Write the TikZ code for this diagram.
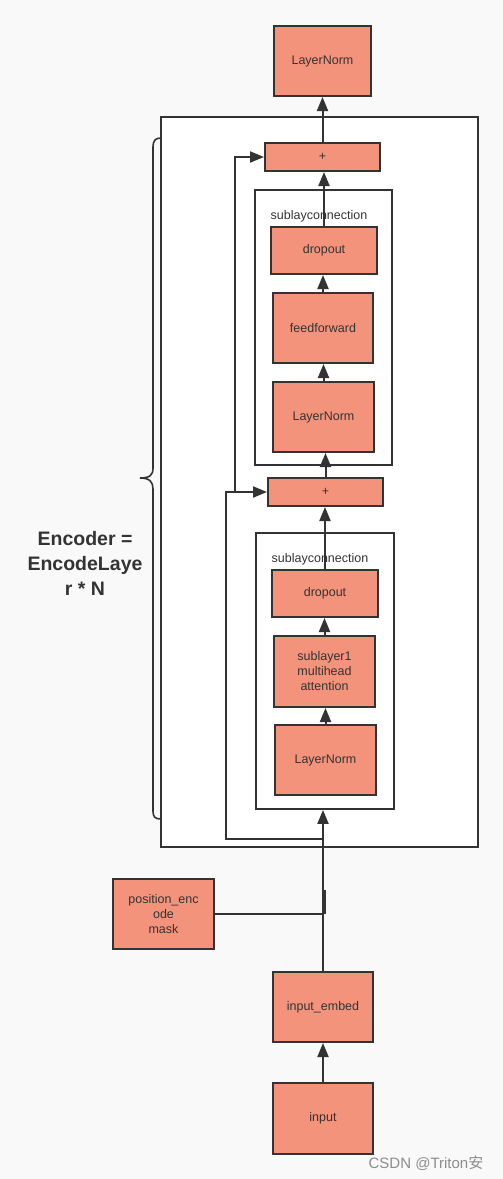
\documentclass[tikz,border=0pt]{standalone}
\usepackage{fontspec}
\setmainfont{Liberation Sans}
\newfontfamily\cjk{Noto Sans CJK SC}
\usetikzlibrary{arrows.meta}
\definecolor{salmon}{HTML}{F4937B}
\definecolor{ink}{HTML}{333333}
\definecolor{bgc}{HTML}{F9F9F9}
\begin{document}
\begin{tikzpicture}[x=1pt,y=-1pt,
  box/.style={draw=ink,line width=2pt,fill=salmon,text=ink,inner sep=1pt,align=center,font=\fontsize{12.5}{15}\selectfont},
  frame/.style={draw=ink,line width=1.8pt,fill=white},
  conn/.style={draw=ink,line width=2pt},
  arr/.style={conn,-{Triangle[length=14pt,width=11pt]}},
  lbl/.style={text=ink,font=\fontsize{12.5}{15}\selectfont,inner sep=0pt}]
\fill[bgc] (0,0) rectangle (503,1179);
\useasboundingbox (0,0) rectangle (503,1179);
% outer encoder frame
\node[frame,minimum width=317pt,minimum height=730pt,inner sep=0pt] (enc) at (319.5,482) {};
% brace
\draw[ink,line width=1.6pt] (161,138) .. controls (155,138) and (153,141) .. (153,147) -- (153,468) .. controls (153,475) and (150,478) .. (140,478) .. controls (150,478) and (153,482) .. (153,489) -- (153,811) .. controls (153,817) and (155,819) .. (161,819);
\node[text=ink,font=\bfseries\fontsize{19.5}{25}\selectfont,align=center] (enctxt) at (85,563) {Encoder =\\EncodeLaye\\r * N};
% sublayer frames
\node[frame,minimum width=137pt,minimum height=275pt,inner sep=0pt] (sub1) at (323.5,327.5) {};
\node[frame,minimum width=138pt,minimum height=276pt,inner sep=0pt] (sub2) at (325,671) {};
\node[lbl] (sub1l) at (319,216) {sublayconnection};
\node[lbl] (sub2l) at (320,559) {sublayconnection};
% boxes
\node[box,minimum width=97pt,minimum height=70pt] (ln0) at (322.5,61) {LayerNorm};
\node[box,minimum width=115pt,minimum height=28pt] (plus1) at (322.5,157) {+};
\node[box,minimum width=106pt,minimum height=47pt] (drop1) at (324,250.5) {dropout};
\node[box,minimum width=100pt,minimum height=70pt] (ff) at (323,328) {feedforward};
\node[box,minimum width=101pt,minimum height=70pt] (ln1) at (323.5,417) {LayerNorm};
\node[box,minimum width=115pt,minimum height=28pt] (plus2) at (325.5,492) {+};
\node[box,minimum width=106pt,minimum height=47pt] (drop2) at (325,593.5) {dropout};
\node[box,minimum width=101pt,minimum height=71pt] (sa) at (324.5,671.5) {sublayer1\\multihead\\attention};
\node[box,minimum width=101pt,minimum height=70pt] (ln2) at (325.5,760) {LayerNorm};
\node[box,minimum width=101pt,minimum height=70pt] (pos) at (163.5,914) {position\_enc\\ode\\mask};
\node[box,minimum width=100pt,minimum height=70pt] (emb) at (323,1007) {input\_embed};
\node[box,minimum width=100pt,minimum height=71pt] (inp) at (323,1118.5) {input};
% arrows
\draw[arr] (plus1.north) -- (plus1.north |- ln0.south);
\draw[arr] (drop1.north) -- (drop1.north |- plus1.south);
\draw[arr] (ff.north) -- (ff.north |- drop1.south);
\draw[arr] (ln1.north) -- (ln1.north |- ff.south);
\draw[arr] (plus2.north) -- (plus2.north |- ln1.south);
\draw[arr] (drop2.north) -- (drop2.north |- plus2.south);
\draw[arr] (sa.north) -- (sa.north |- drop2.south);
\draw[arr] (ln2.north) -- (ln2.north |- sa.south);
\draw[arr] (emb.north) -- (emb.north |- sub2.south);
\draw[arr] (inp.north) -- (inp.north |- emb.south);
% skip connections
\coordinate (j1) at (323,839);
\coordinate (skipA) at (226,839);
\coordinate (skipB) at (235,492);
\draw[arr] (j1) -- (skipA) |- (plus2.west);
\draw[arr] (skipB) |- (plus1.west);
% position encoding join
\draw[conn] (pos.east) -- (emb.north |- pos.east);
\draw[conn] (325,890) -- (325,914);
% watermark
\node[text=black!45,font=\fontsize{15}{17}\selectfont,inner sep=0pt] (csdn) at (426,1163) {CSDN @Triton{\cjk 安}};
\end{tikzpicture}
\end{document}
